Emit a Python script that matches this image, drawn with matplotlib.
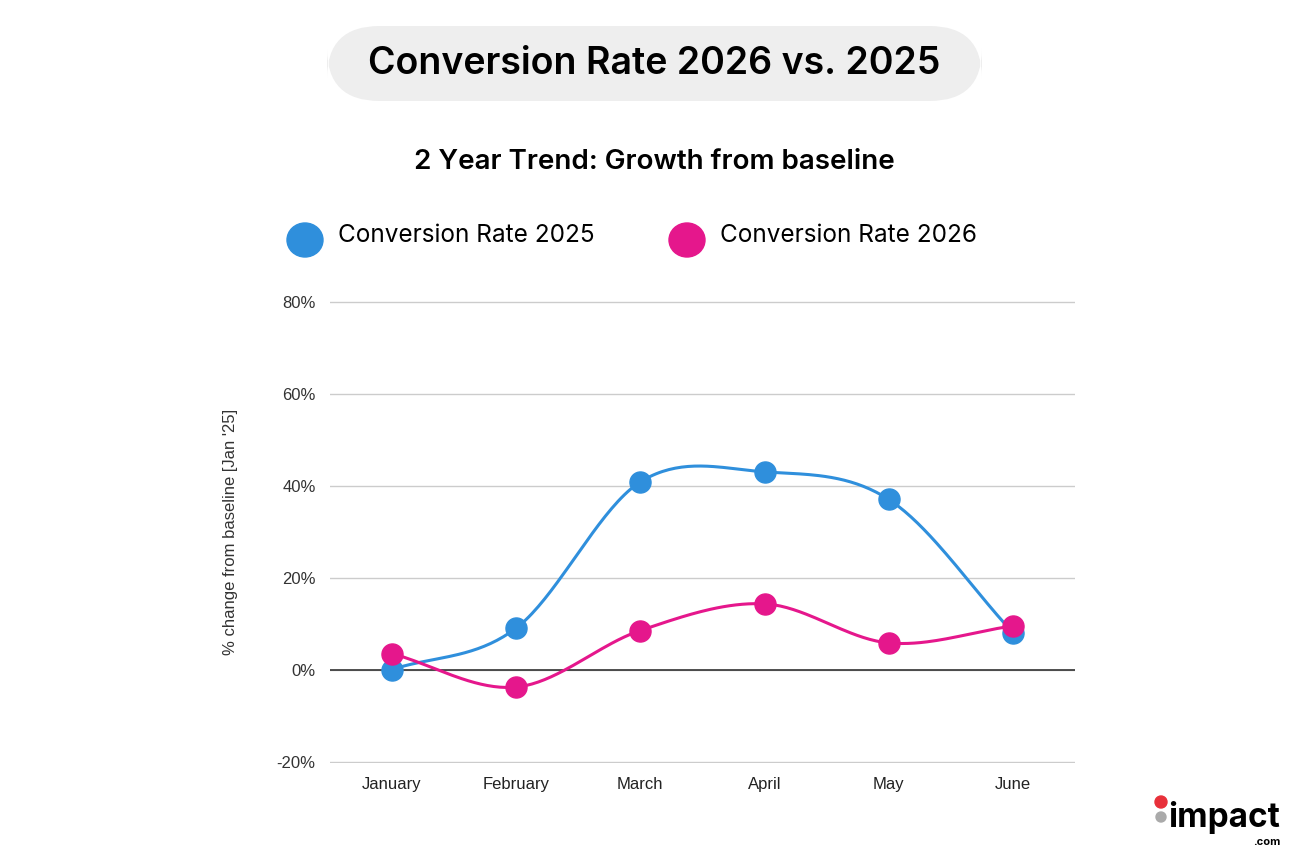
import numpy as np
import matplotlib
matplotlib.use("Agg")
import matplotlib.pyplot as plt
from matplotlib.patches import FancyBboxPatch

months = ["January", "February", "March", "April", "May", "June"]
rate_2025 = [0.0, 9.0, 40.8, 43.0, 37.0, 8.0]
rate_2026 = [3.5, -3.8, 8.5, 14.3, 5.8, 9.5]
yticks = [-20, 0, 20, 40, 60, 80]

BLUE = "#2F8FDC"
PINK = "#E5178C"

def smooth(y, n=40):
    y = np.asarray(y, float)
    x = np.arange(len(y))
    m = np.gradient(y, x)
    xs, ys = [], []
    for i in range(len(y) - 1):
        t = np.linspace(0, 1, n)
        h00 = 2*t**3 - 3*t**2 + 1; h10 = t**3 - 2*t**2 + t
        h01 = -2*t**3 + 3*t**2; h11 = t**3 - t**2
        xs.append(x[i] + t)
        ys.append(h00*y[i] + h10*m[i] + h01*y[i+1] + h11*m[i+1])
    return np.concatenate(xs), np.concatenate(ys)

fig = plt.figure(figsize=(13.08, 8.68), dpi=100)
ax = fig.add_axes([0.252, 0.121, 0.570, 0.533])
x = np.arange(len(months))
for vals, c in [(rate_2025, BLUE), (rate_2026, PINK)]:
    sx, sy = smooth(vals)
    ax.plot(sx, sy, color=c, lw=2.2, zorder=3)
    ax.scatter(x, vals, s=230, color=c, zorder=4)
ax.set_xlim(-0.5, len(months) - 0.5)
ax.set_ylim(-20.3, 80.3)
ax.set_yticks(yticks)
ax.set_yticklabels([f"{v}%" for v in yticks], fontsize=12, color="#333333", family="Liberation Sans")
ax.set_xticks(x)
ax.set_xticklabels(months, fontsize=12, color="#222222", family="Liberation Sans")
ax.tick_params(length=0, pad=10)
ax.grid(axis="y", color="#cccccc", lw=1)
ax.axhline(0, color="#333333", lw=1.2, zorder=2)
for s in ax.spines.values():
    s.set_visible(False)
ax.set_ylabel("% change from baseline [Jan '25]", fontsize=12, color="#333333", labelpad=28,
              family="Liberation Sans")

box = FancyBboxPatch((327/1308, 1-101/868), 655/1308, 75/868,
                     boxstyle="round,pad=0,rounding_size=0.04", transform=fig.transFigure,
                     facecolor="#EEEEEE", edgecolor="none", mutation_aspect=1.5)
fig.patches.append(box)
fig.text(654/1308, 1-64/868, "Conversion Rate 2026 vs. 2025", ha="center", va="center",
         fontsize=27, fontweight="semibold", family="Inter")
fig.text(654/1308, 1-162/868, "2 Year Trend: Growth from baseline", ha="center", va="center",
         fontsize=20, fontweight="semibold", family="Inter")
for cx, tx, lab, c in [(305, 338, "Conversion Rate 2025", BLUE), (687, 720, "Conversion Rate 2026", PINK)]:
    fig.patches.append(matplotlib.patches.Ellipse((cx/1308, 1-240/868), 36/1308, 34/868,
                        transform=fig.transFigure, color=c))
    fig.text(tx/1308, 1-236/868, lab, ha="left", va="center", fontsize=17.5, family="Inter")

fig.patches.append(matplotlib.patches.Ellipse((1161/1308, 1-802/868), 12/1308, 12/868, transform=fig.transFigure, color="#E8303A"))
fig.patches.append(matplotlib.patches.Ellipse((1161/1308, 1-817/868), 10/1308, 10/868, transform=fig.transFigure, color="#AAAAAA"))
fig.text(1168/1308, 1-818/868, "impact", ha="left", va="center", fontsize=24, fontweight="bold", family="Inter")
fig.text(1281/1308, 1-842/868, ".com", ha="right", va="center", fontsize=8, fontweight="bold", family="Inter")

fig.savefig("out.png", dpi=100)
